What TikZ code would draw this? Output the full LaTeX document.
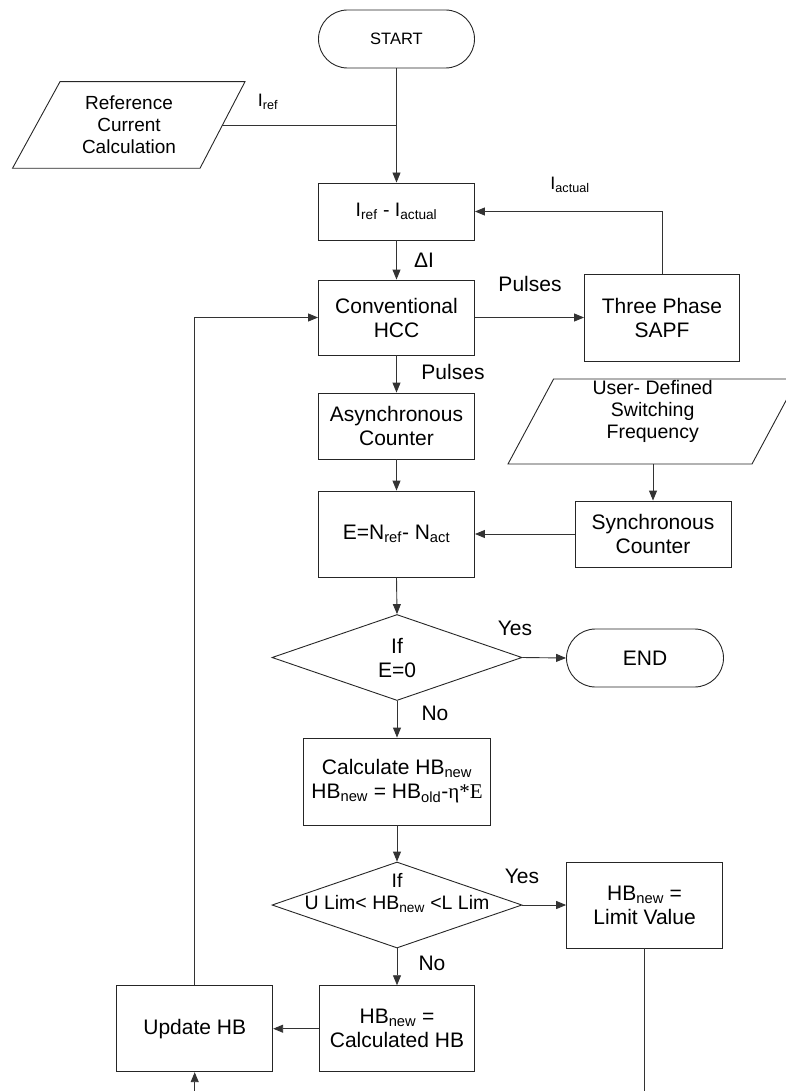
\documentclass[tikz,border=0pt]{standalone}
\usepackage{fontspec}
\setmainfont{Liberation Sans}
\newfontfamily\serifface{Liberation Serif}
\usetikzlibrary{arrows.meta,shapes.geometric}
\newcommand{\sz}[2]{\fontsize{#1}{#2}\selectfont}
\begin{document}
\begin{tikzpicture}[x=1pt,y=-1pt,
  box/.style={draw=black!85, line width=0.9pt, rectangle, align=center, font=\sz{21}{24}, inner sep=0pt},
  term/.style={box, rounded corners=29pt},
  dia/.style={draw=black!85, line width=0.9pt, diamond, inner sep=0pt, minimum width=250pt, minimum height=86pt},
  para/.style={draw=black!85, line width=0.9pt},
  lbl/.style={font=\sz{21}{24}, inner sep=0pt, align=center},
  conn/.style={draw=black!80, line width=0.9pt},
  arr/.style={conn, -{Triangle[length=10pt,width=8pt]}},
]
\useasboundingbox (0,0) rectangle (786,1091);

% terminals and boxes
\node[term, minimum width=156pt, minimum height=58pt, font=\sz{16.5}{20}] (start) at (396.5,39) {START};
\node[box, minimum width=156pt, minimum height=57pt, font=\sz{19.5}{22}] (diff) at (396.5,211.5) {I\textsubscript{ref} - I\textsubscript{actual}};
\node[box, minimum width=156pt, minimum height=75pt] (conv) at (396.5,317.5) {Conventional\\HCC};
\node[box, minimum width=155pt, minimum height=87pt] (sapf) at (662,317.5) {Three Phase\\SAPF};
\node[box, minimum width=156pt, minimum height=66pt] (async) at (396.5,426) {Asynchronous\\Counter};
\node[box, minimum width=156pt, minimum height=86pt] (ebox) at (396.5,534) {E=N\textsubscript{ref}- N\textsubscript{act}};
\node[box, minimum width=156pt, minimum height=66pt] (sync) at (653,534) {Synchronous\\Counter};
\node[dia] (dia1) at (397,657.5) {};
\node[lbl] (dia1t) at (397,657.5) {If\\E=0};
\node[term, minimum width=157pt, minimum height=58pt] (endn) at (645,658) {END};
\node[box, minimum width=187pt, minimum height=87pt] (calc) at (397,781.5) {Calculate HB\textsubscript{new}\\HB\textsubscript{new} = HB\textsubscript{old}-{\serifface η*E}};
\node[dia] (dia2) at (397,905) {};
\node[lbl, font=\sz{19.5}{22}] (dia2t) at (397,893) {If\\U Lim< HB\textsubscript{new} <L Lim};
\node[box, minimum width=156pt, minimum height=86pt] (limit) at (644.6,905) {HB\textsubscript{new} =\\Limit Value};
\node[box, minimum width=155pt, minimum height=86pt] (calchb) at (397,1028.7) {HB\textsubscript{new} =\\Calculated HB};
\node[box, minimum width=156pt, minimum height=86pt] (update) at (194.7,1028.7) {Update HB};

% parallelograms
\draw[para] (60,81.7) -- (245,81.7) -- (200,168.3) -- (12.5,168.3) -- cycle;
\node[lbl, font=\sz{19}{22}] (refcalc) at (129,125) {Reference\\Current\\Calculation};
\coordinate (refout) at (222.4,125.3);
\draw[para] (553.6,379) -- (797.6,379) -- (752,464) -- (508,464) -- cycle;
\node[lbl, font=\sz{19.5}{22}] (userdef) at (652.7,411) {User- Defined\\Switching\\Frequency};
\coordinate (userout) at (653,464);

% labels
\node[lbl, font=\sz{18}{20}] (lref) at (268,102) {I\textsubscript{ref}};
\node[lbl, font=\sz{18}{20}] (lact) at (570,185) {I\textsubscript{actual}};
\node[lbl] (ldI) at (424,260) {ΔI};
\node[lbl] (lp1) at (530,284) {Pulses};
\node[lbl] (lp2) at (453,372) {Pulses};
\node[lbl] (ly1) at (515,628) {Yes};
\node[lbl] (ln1) at (435,713) {No};
\node[lbl] (ly2) at (522,876) {Yes};
\node[lbl] (ln2) at (432,963) {No};

% connectors
\coordinate (j1) at (396.5,125.3);
\draw[arr] (start.south) -- (diff.north);
\draw[conn] (refout) -- (j1);
\draw[arr] (diff.south) -- (conv.north);
\draw[arr] (conv.east) -- (sapf.west);
\draw[arr] (sapf.north) |- (diff.east);
\draw[arr] (conv.south) -- (async.north);
\draw[arr] (async.south) -- (ebox.north);
\draw[arr] (userout) -- (sync.north);
\draw[arr] (sync.west) -- (ebox.east);
\draw[arr] (ebox.south) -- (dia1.north);
\draw[arr] (dia1.east) -- (endn.west);
\draw[arr] (dia1.south) -- (calc.north);
\draw[arr] (calc.south) -- (dia2.north);
\draw[arr] (dia2.east) -- (limit.west);
\draw[arr] (dia2.south) -- (calchb.north);
\draw[arr] (calchb.west) -- (update.east);
\draw[arr] (update.north) |- (conv.west);
\coordinate (limbot) at (644.6,1091);
\coordinate (updbot) at (194.7,1091);
\draw[conn] (limit.south) -- (limbot);
\draw[arr] (updbot) -- (update.south);
\end{tikzpicture}
\end{document}
